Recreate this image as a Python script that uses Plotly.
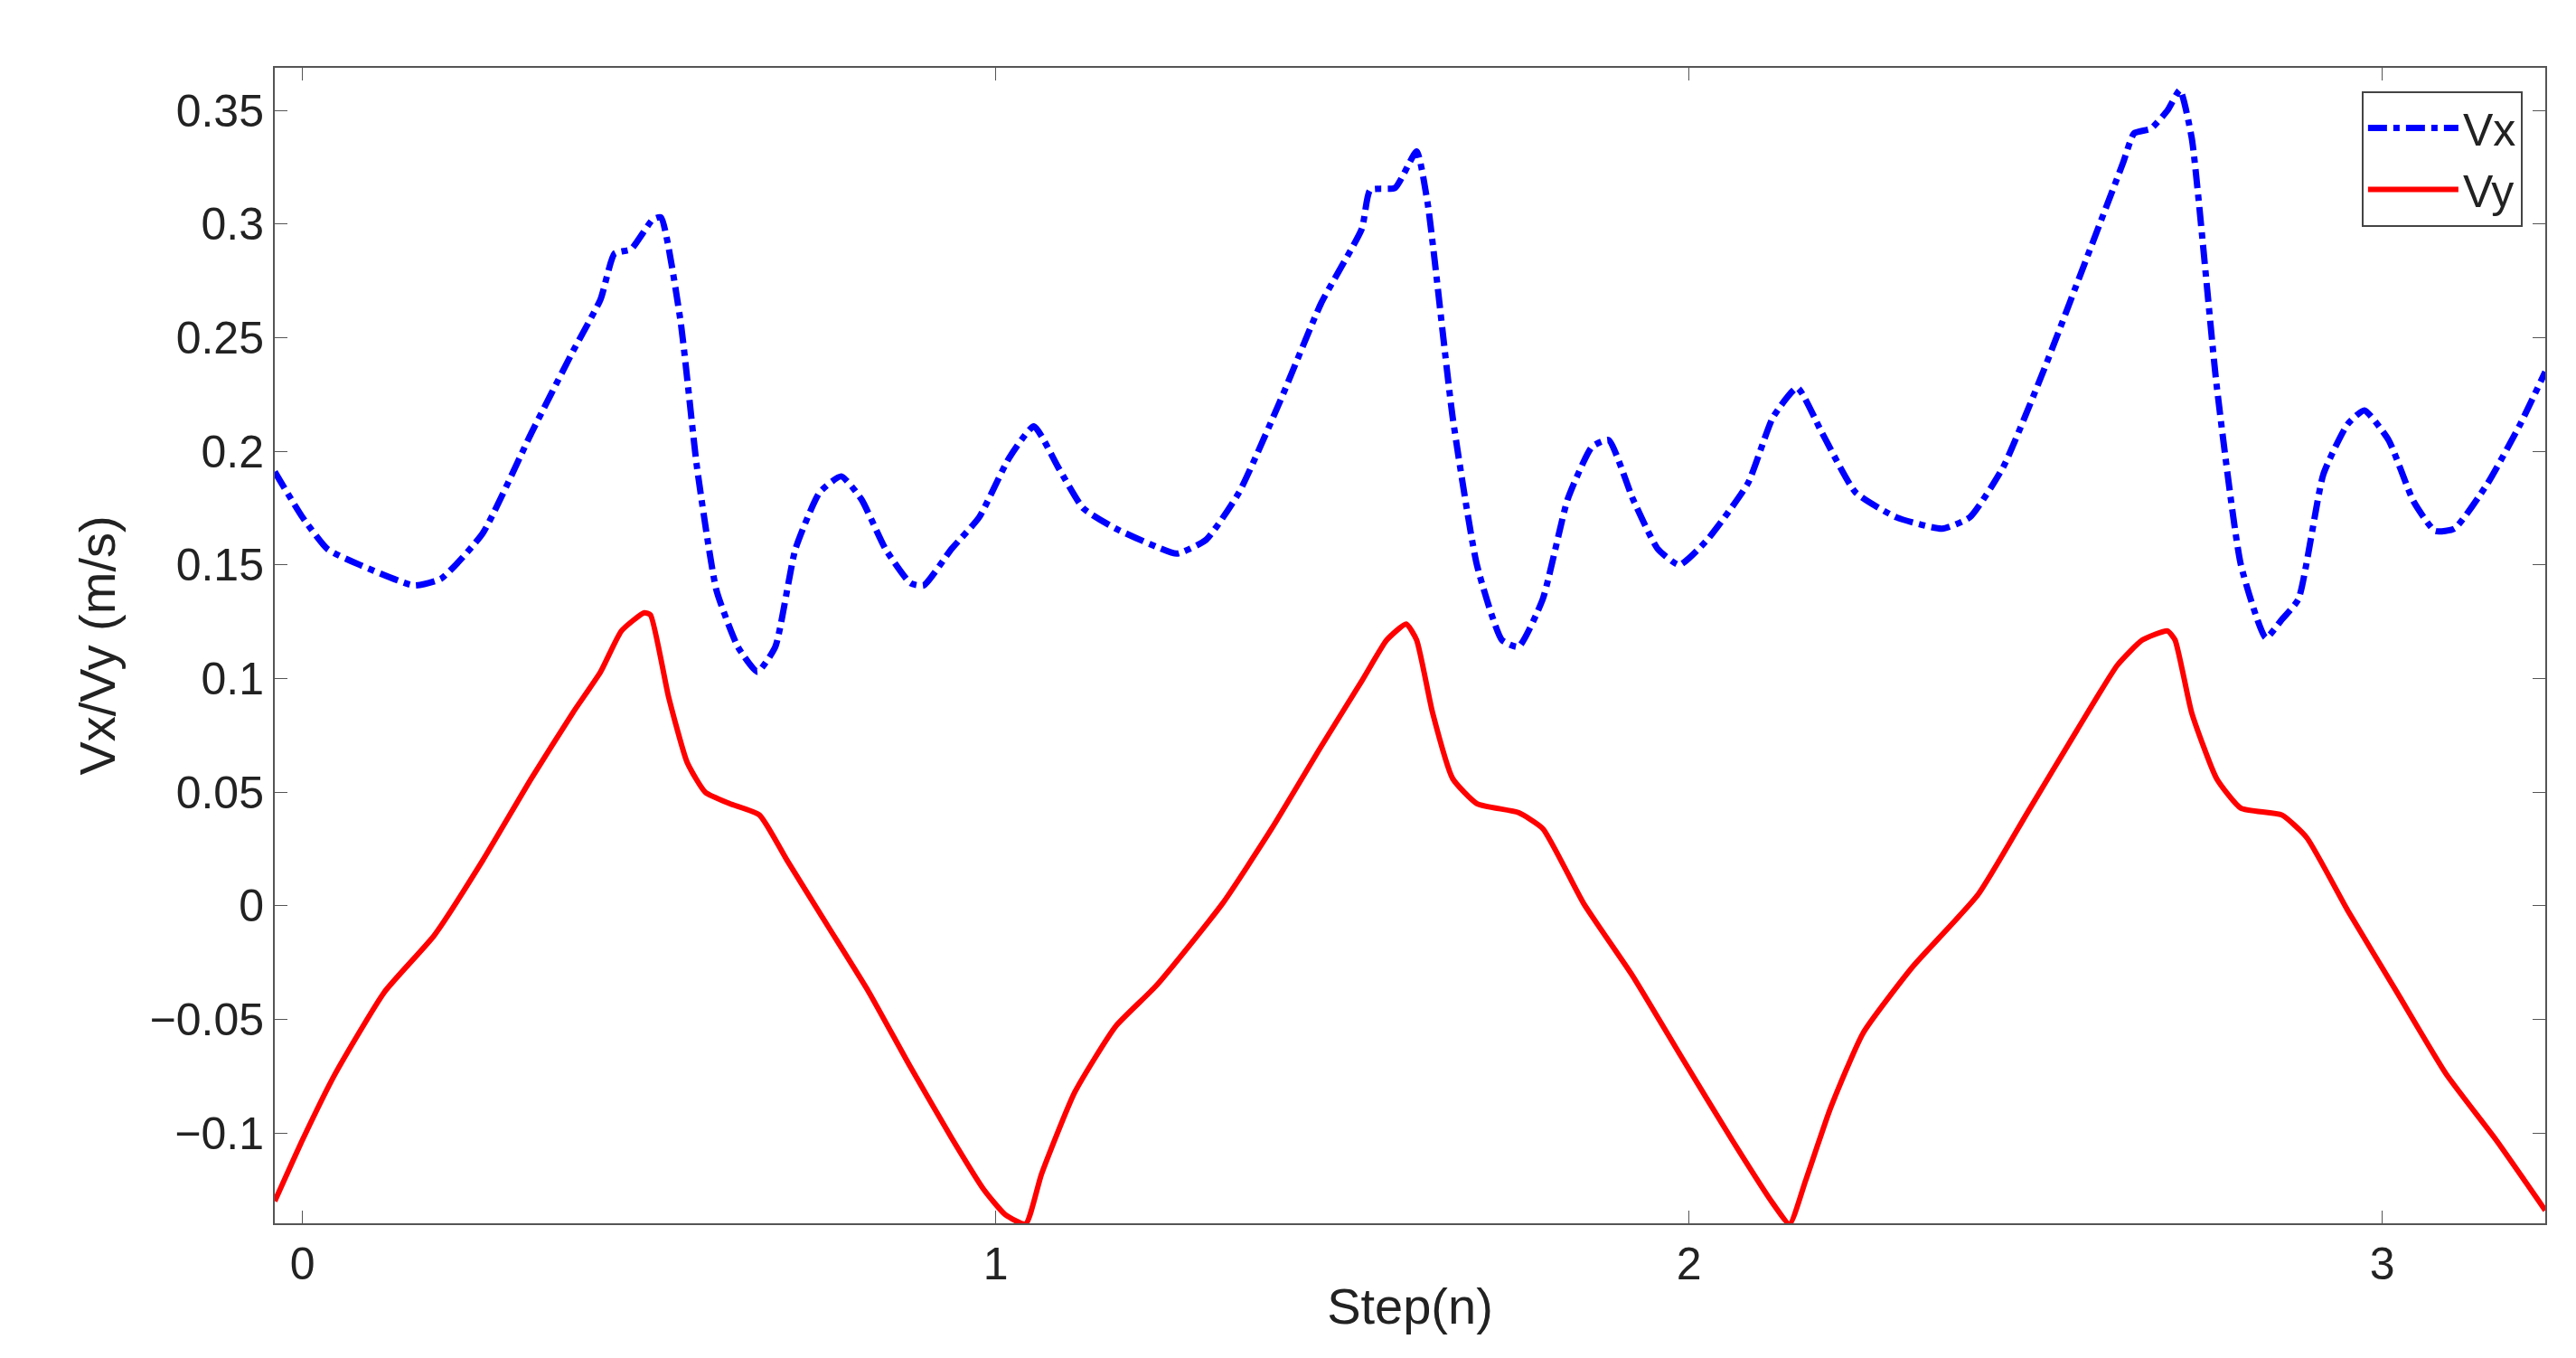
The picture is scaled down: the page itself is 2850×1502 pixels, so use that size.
import plotly.graph_objects as go

# Vx (dash-dot blue)
vx_step = [-0.04, 0, 0.036, 0.083, 0.161, 0.20, 0.26, 0.33, 0.39, 0.43, 0.45, 0.474, 0.505, 0.517,
           0.545, 0.569, 0.597, 0.628, 0.656, 0.682, 0.711, 0.746, 0.777, 0.806, 0.841, 0.877, 0.896,
           0.936, 0.976, 1.019, 1.055, 1.09, 1.126, 1.173, 1.232, 1.261, 1.303, 1.351, 1.41, 1.469,
           1.528, 1.540, 1.576, 1.607, 1.623, 1.659, 1.694, 1.730, 1.754, 1.789, 1.825, 1.86, 1.884,
           1.919, 1.955, 1.986, 2.026, 2.085, 2.121, 2.156, 2.192, 2.24, 2.299, 2.365, 2.405, 2.453,
           2.512, 2.571, 2.626, 2.642, 2.666, 2.690, 2.708, 2.725, 2.761, 2.796, 2.832, 2.855, 2.879,
           2.915, 2.95, 2.974, 3.009, 3.045, 3.076, 3.104, 3.152, 3.199, 3.235]
vx_val = [0.191, 0.171, 0.157, 0.150, 0.141, 0.144, 0.164, 0.208, 0.244, 0.267, 0.287, 0.289, 0.302, 0.303,
          0.258, 0.193, 0.139, 0.114, 0.103, 0.114, 0.157, 0.182, 0.189, 0.179, 0.157, 0.142, 0.141,
          0.157, 0.171, 0.197, 0.211, 0.193, 0.175, 0.166, 0.158, 0.155, 0.161, 0.182, 0.222, 0.265,
          0.298, 0.315, 0.316, 0.332, 0.309, 0.215, 0.150, 0.117, 0.114, 0.135, 0.179, 0.202, 0.205,
          0.179, 0.157, 0.150, 0.161, 0.186, 0.215, 0.228, 0.208, 0.182, 0.171, 0.166, 0.171, 0.193,
          0.236, 0.283, 0.327, 0.340, 0.342, 0.350, 0.359, 0.338, 0.229, 0.150, 0.118, 0.126, 0.135,
          0.190, 0.212, 0.218, 0.205, 0.178, 0.165, 0.166, 0.186, 0.212, 0.235]

# Vy (solid red)
vy_step = [-0.04, 0, 0.047, 0.118, 0.19, 0.26, 0.33, 0.39, 0.43, 0.46, 0.493, 0.502, 0.528, 0.555, 0.581,
           0.616, 0.659, 0.699, 0.758, 0.817, 0.877, 0.936, 0.983, 1.014, 1.043, 1.066, 1.114, 1.173,
           1.232, 1.327, 1.398, 1.469, 1.528, 1.564, 1.592, 1.607, 1.630, 1.659, 1.694, 1.754, 1.789,
           1.848, 1.919, 1.99, 2.062, 2.121, 2.145, 2.168, 2.204, 2.251, 2.322, 2.417, 2.488, 2.559,
           2.618, 2.654, 2.690, 2.701, 2.725, 2.761, 2.796, 2.855, 2.891, 2.95, 3.021, 3.092, 3.164, 3.235]
vy_val = [-0.130, -0.103, -0.074, -0.038, -0.013, 0.020, 0.056, 0.085, 0.103, 0.121, 0.129, 0.128, 0.092,
          0.063, 0.050, 0.045, 0.040, 0.020, -0.009, -0.038, -0.071, -0.102, -0.125, -0.136, -0.140,
          -0.118, -0.082, -0.053, -0.035, 0.001, 0.034, 0.070, 0.099, 0.117, 0.124, 0.117, 0.085,
          0.056, 0.045, 0.041, 0.034, 0.001, -0.031, -0.067, -0.103, -0.131, -0.140, -0.121, -0.089,
          -0.056, -0.027, 0.005, 0.041, 0.077, 0.106, 0.117, 0.121, 0.117, 0.085, 0.056, 0.043, 0.040,
          0.030, -0.002, -0.038, -0.074, -0.103, -0.134]

y_ticks = [-0.1, -0.05, 0, 0.05, 0.1, 0.15, 0.2, 0.25, 0.3, 0.35]
y_labels = ["\u22120.1", "\u22120.05", "0", "0.05", "0.1", "0.15", "0.2", "0.25", "0.3", "0.35"]
x_ticks = [0, 1, 2, 3]

fig = go.Figure()
fig.add_trace(go.Scatter(x=vx_step, y=vx_val, name="Vx", mode="lines",
                         line=dict(color="#0000ff", width=7, dash="dashdot", shape="spline", smoothing=0.5)))
fig.add_trace(go.Scatter(x=vy_step, y=vy_val, name="Vy", mode="lines",
                         line=dict(color="#ff0000", width=6, shape="spline", smoothing=0.5)))

axis_common = dict(showgrid=False, zeroline=False, showline=True, linecolor="#555555", linewidth=2,
                   mirror="ticks", ticks="inside", ticklen=14, tickcolor="#555555",
                   tickfont=dict(family="Liberation Sans", size=50, color="#222222"))
fig.update_layout(
    width=2850, height=1502,
    plot_bgcolor="white", paper_bgcolor="white",
    margin=dict(l=296, r=42, t=67, b=157),
    xaxis=dict(range=[-0.04, 3.235], tickvals=x_ticks,
               title=dict(text="Step(n)", standoff=0,
                          font=dict(family="Liberation Sans", size=56, color="#222222")),
               **axis_common),
    yaxis=dict(range=[-0.1397, 0.3688], tickvals=y_ticks, ticktext=y_labels,
               title=dict(text="Vx/Vy (m/s)", standoff=20,
                          font=dict(family="Liberation Sans", size=56, color="#222222")),
               **axis_common),
    legend=dict(x=0.99, y=0.98, xanchor="right", yanchor="top", bgcolor="white",
                bordercolor="#444444", borderwidth=2, itemwidth=100,
                font=dict(family="Liberation Sans", size=50, color="#222222")),
)
fig.write_html("out.html")
